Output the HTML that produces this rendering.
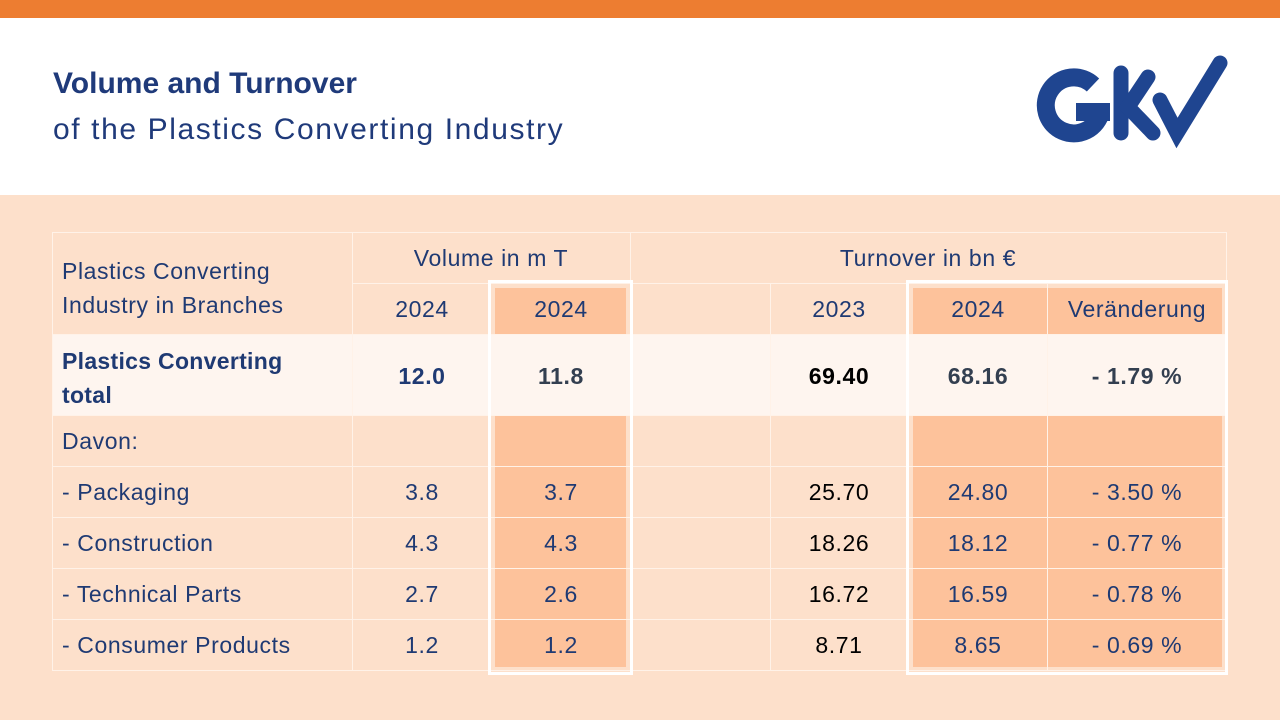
<!DOCTYPE html>
<html><head><meta charset="utf-8"><style>
body{margin:0;width:1280px;height:720px;position:relative;overflow:hidden;background:#fde0cb;font-family:"Liberation Sans",sans-serif;}
.a{position:absolute;}
.t{position:absolute;color:#1f3a73;font-size:23px;letter-spacing:0.6px;white-space:nowrap;}
.c{text-align:center;}
.hl{position:absolute;background:#fdc29b;}
.hl2{position:absolute;background:#fef5ef;}
.vl{position:absolute;width:1px;background:#fff2e8;}
.hz{position:absolute;height:1px;background:#fff2e8;}
</style></head><body>
<div class="a" style="left:0;top:0;width:1280px;height:18px;background:#ed7d31"></div>
<div class="a" style="left:0;top:18px;width:1280px;height:177px;background:#fff"></div>
<div class="t" style="left:53px;top:67px;font-size:30px;letter-spacing:0;font-weight:bold;color:#1f3a7a">Volume and Turnover</div>
<div class="t" style="left:53px;top:113px;font-size:30px;color:#1f3a7a;letter-spacing:1.6px">of the Plastics Converting Industry</div>
<svg class="a" style="left:1000px;top:40px" width="250" height="120">
<g fill="none" stroke="#1f4590" stroke-width="18" stroke-linecap="round">
<path d="M93 45 A28 28 0 1 0 101 72" stroke-linecap="butt"/>
<path d="M76 72 H110" stroke-linecap="butt"/>
<g stroke-width="15">
<path d="M121 33 V93"/>
<path d="M148 37 L128 67 L153 93"/>
<path d="M160 60 L177 93 L220 23"/>
</g>
</g></svg>
<!-- table -->
<div class="hl2" style="left:52px;top:334px;width:1174px;height:81px"></div>
<div class="hl" style="left:495px;top:288px;width:131px;height:46px"></div>
<div class="hl" style="left:495px;top:415px;width:131px;height:252px"></div>
<div class="hl" style="left:913px;top:288px;width:309px;height:46px"></div>
<div class="hl" style="left:913px;top:415px;width:309px;height:252px"></div>
<div class="hz" style="left:52px;top:232px;width:1174px"></div>
<div class="hz" style="left:352px;top:283px;width:874px"></div>
<div class="hz" style="left:52px;top:334px;width:1174px"></div>
<div class="hz" style="left:52px;top:415px;width:1174px"></div>
<div class="hz" style="left:52px;top:466px;width:1174px"></div>
<div class="hz" style="left:52px;top:517px;width:1174px"></div>
<div class="hz" style="left:52px;top:568px;width:1174px"></div>
<div class="hz" style="left:52px;top:619px;width:1174px"></div>
<div class="hz" style="left:52px;top:670px;width:1174px"></div>
<div class="vl" style="left:52px;top:232px;height:438px"></div>
<div class="vl" style="left:352px;top:232px;height:438px"></div>
<div class="vl" style="left:630px;top:232px;height:438px"></div>
<div class="vl" style="left:770px;top:283px;height:387px"></div>
<div class="vl" style="left:1047px;top:283px;height:387px"></div>
<div class="vl" style="left:1226px;top:232px;height:438px"></div>
<div class="a" style="left:488px;top:280px;width:139px;height:389px;border:3px solid #fff"></div>
<div class="a" style="left:906px;top:280px;width:316px;height:389px;border:3px solid #fff"></div>

<div class="t" style="left:62px;top:254px;line-height:34px">Plastics Converting<br>Industry in Branches</div>
<div class="t c" style="left:352px;top:245px;width:278px">Volume in m T</div>
<div class="t c" style="left:630px;top:245px;width:596px">Turnover in bn €</div>
<div class="t c" style="left:352px;top:296px;width:140px">2024</div>
<div class="t c" style="left:492px;top:296px;width:138px">2024</div>
<div class="t c" style="left:770px;top:296px;width:138px">2023</div>
<div class="t c" style="left:908px;top:296px;width:140px">2024</div>
<div class="t c" style="left:1048px;top:296px;width:178px">Veränderung</div>

<div class="t" style="left:62px;top:344px;line-height:34px;font-weight:bold;letter-spacing:0.3px">Plastics Converting<br>total</div>
<div class="t c" style="left:352px;top:363px;width:140px;font-weight:bold">12.0</div>
<div class="t c" style="left:492px;top:363px;width:138px;font-weight:bold;color:#333f50">11.8</div>
<div class="t c" style="left:770px;top:363px;width:138px;font-weight:bold;color:#000">69.40</div>
<div class="t c" style="left:908px;top:363px;width:140px;font-weight:bold;color:#333f50">68.16</div>
<div class="t c" style="left:1048px;top:363px;width:178px;font-weight:bold;color:#333f50">- 1.79 %</div>

<div class="t" style="left:62px;top:428px">Davon:</div>

<div class="t" style="left:62px;top:479px">- Packaging</div>
<div class="t c" style="left:352px;top:479px;width:140px">3.8</div>
<div class="t c" style="left:492px;top:479px;width:138px">3.7</div>
<div class="t c" style="left:770px;top:479px;width:138px;color:#000">25.70</div>
<div class="t c" style="left:908px;top:479px;width:140px">24.80</div>
<div class="t c" style="left:1048px;top:479px;width:178px">- 3.50 %</div>

<div class="t" style="left:62px;top:530px">- Construction</div>
<div class="t c" style="left:352px;top:530px;width:140px">4.3</div>
<div class="t c" style="left:492px;top:530px;width:138px">4.3</div>
<div class="t c" style="left:770px;top:530px;width:138px;color:#000">18.26</div>
<div class="t c" style="left:908px;top:530px;width:140px">18.12</div>
<div class="t c" style="left:1048px;top:530px;width:178px">- 0.77 %</div>

<div class="t" style="left:62px;top:581px">- Technical Parts</div>
<div class="t c" style="left:352px;top:581px;width:140px">2.7</div>
<div class="t c" style="left:492px;top:581px;width:138px">2.6</div>
<div class="t c" style="left:770px;top:581px;width:138px;color:#000">16.72</div>
<div class="t c" style="left:908px;top:581px;width:140px">16.59</div>
<div class="t c" style="left:1048px;top:581px;width:178px">- 0.78 %</div>

<div class="t" style="left:62px;top:632px">- Consumer Products</div>
<div class="t c" style="left:352px;top:632px;width:140px">1.2</div>
<div class="t c" style="left:492px;top:632px;width:138px">1.2</div>
<div class="t c" style="left:770px;top:632px;width:138px;color:#000">8.71</div>
<div class="t c" style="left:908px;top:632px;width:140px">8.65</div>
<div class="t c" style="left:1048px;top:632px;width:178px">- 0.69 %</div>
</body></html>
